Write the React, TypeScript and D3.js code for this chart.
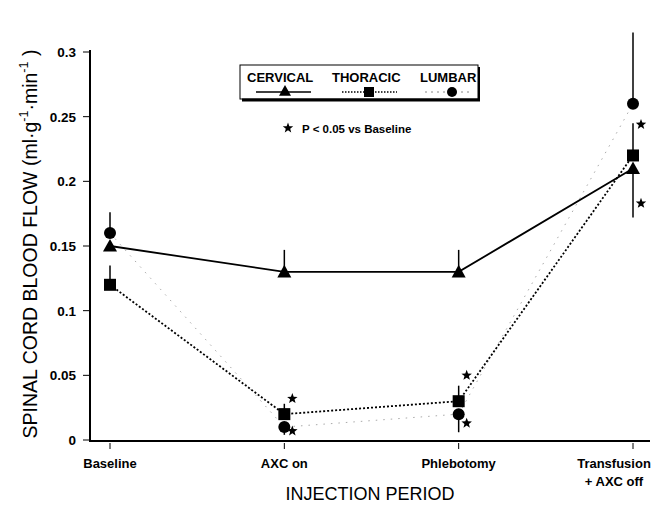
import React from "react";
import * as d3 from "d3";

const periods = ["Baseline", "AXC on", "Phlebotomy", "Transfusion\n+ AXC off"];
const cervical = [0.15, 0.13, 0.13, 0.21];
const thoracic = [0.12, 0.02, 0.03, 0.22];
const lumbar = [0.16, 0.01, 0.02, 0.26];
// error bar ends (one-sided)
const cervicalErr = [0.15, 0.147, 0.147, 0.172];
const thoracicErr = [0.135, 0.028, 0.042, 0.245];
const lumbarErr = [0.176, 0.004, 0.006, 0.315];
const yTicks = [0, 0.05, 0.1, 0.15, 0.2, 0.25, 0.3];
// significance stars: [period index, value]
const stars: [number, number][] = [
  [1, 0.032], [1, 0.007], [2, 0.05], [2, 0.013], [3, 0.244], [3, 0.183],
];

const W = 665, H = 507;
const x = d3.scaleLinear().domain([0, 3]).range([110, 633]);
const y = d3.scaleLinear().domain([0, 0.3]).range([440, 52]);
const font = "'Liberation Sans', Arial, Helvetica, sans-serif";

function Star({ cx, cy, r = 5.5 }: { cx: number; cy: number; r?: number }) {
  const pts: string[] = [];
  for (let i = 0; i < 10; i++) {
    const a = -Math.PI / 2 + (i * Math.PI) / 5;
    const rr = i % 2 === 0 ? r : r * 0.42;
    pts.push(`${cx + rr * Math.cos(a)},${cy + rr * Math.sin(a)}`);
  }
  return <polygon points={pts.join(" ")} fill="#000" />;
}

export default function App() {
  const line = d3.line<number>().x((_, i) => x(i)).y((d) => y(d));
  const tri = (cx: number, cy: number, s = 7) =>
    `${cx},${cy - s} ${cx + s},${cy + s * 0.8} ${cx - s},${cy + s * 0.8}`;
  const labelX = (i: number) => (i === 3 ? x(i) - 19 : x(i));
  return (
    <svg width={W} height={H} style={{ position: "absolute", left: 0, top: 0, background: "#fff" }} fontFamily={font}>
      {/* axes */}
      <line x1={90} x2={90} y1={50} y2={441} stroke="#000" strokeWidth={2} />
      <line x1={89} x2={650} y1={441} y2={441} stroke="#000" strokeWidth={2} />
      {yTicks.map((t) => (
        <g key={t}>
          <line x1={83} x2={90} y1={y(t)} y2={y(t)} stroke="#000" strokeWidth={1} />
          <text x={76} y={y(t) + 5} textAnchor="end" fontSize={13.5} fontWeight="bold">
            {t === 0 ? "0" : String(t)}
          </text>
        </g>
      ))}
      {periods.map((p, i) => (
        <g key={p}>
          <line x1={x(i)} x2={x(i)} y1={443} y2={449} stroke="#000" strokeWidth={1} />
          {p.split("\n").map((s, j) => (
            <text key={j} x={labelX(i)} y={468 + j * 18} textAnchor="middle" fontSize={13} fontWeight="bold">
              {s}
            </text>
          ))}
        </g>
      ))}
      <text x={370} y={500} textAnchor="middle" fontSize={18}>INJECTION PERIOD</text>
      <text transform="translate(37,244) rotate(-90)" textAnchor="middle" fontSize={19.5}>
        SPINAL CORD BLOOD FLOW (ml·g
        <tspan dy={-9} fontSize={12.5}>-1</tspan>
        <tspan dy={9}>·min</tspan>
        <tspan dy={-9} fontSize={12.5}>-1</tspan>
        <tspan dy={9}> )</tspan>
      </text>

      {/* error bars */}
      {lumbar.map((v, i) => (
        <line key={"le" + i} x1={x(i)} x2={x(i)} y1={y(v)} y2={y(lumbarErr[i])} stroke="#000" strokeWidth={1.5} />
      ))}
      {thoracic.map((v, i) => (
        <line key={"te" + i} x1={x(i)} x2={x(i)} y1={y(v)} y2={y(thoracicErr[i])} stroke="#000" strokeWidth={1.5} />
      ))}
      {cervical.map((v, i) => (
        <line key={"ce" + i} x1={x(i)} x2={x(i)} y1={y(v)} y2={y(cervicalErr[i])} stroke="#000" strokeWidth={1.5} />
      ))}

      {/* lines */}
      <path d={line(lumbar) || ""} fill="none" stroke="#aaa" strokeWidth={1} strokeDasharray="1.5,6" />
      <path d={line(thoracic) || ""} fill="none" stroke="#000" strokeWidth={1.8} strokeDasharray="2,2" />
      <path d={line(cervical) || ""} fill="none" stroke="#000" strokeWidth={1.8} />

      {/* markers */}
      {lumbar.map((v, i) => (
        <circle key={"lm" + i} cx={x(i)} cy={y(v)} r={6} fill="#000" />
      ))}
      {thoracic.map((v, i) => (
        <rect key={"tm" + i} x={x(i) - 6} y={y(v) - 6} width={12} height={12} fill="#000" />
      ))}
      {cervical.map((v, i) => (
        <polygon key={"cm" + i} points={tri(x(i), y(v))} fill="#000" />
      ))}

      {stars.map(([i, v], k) => (
        <Star key={k} cx={x(i) + 8} cy={y(v)} />
      ))}

      {/* legend */}
      <rect x={240} y={65} width={238} height={34} fill="#fff" stroke="#000" strokeWidth={1} />
      <line x1={242} x2={480} y1={100} y2={100} stroke="#000" strokeWidth={3} />
      <line x1={479} x2={479} y1={67} y2={101} stroke="#000" strokeWidth={2} />
      <text x={247} y={82} fontSize={13} fontWeight="bold">CERVICAL</text>
      <text x={332} y={82} fontSize={13} fontWeight="bold">THORACIC</text>
      <text x={420} y={82} fontSize={13} fontWeight="bold">LUMBAR</text>
      <line x1={256} x2={311} y1={92} y2={92} stroke="#000" strokeWidth={1.5} />
      <polygon points={tri(285, 91, 6)} fill="#000" />
      <line x1={342} x2={397} y1={92} y2={92} stroke="#000" strokeWidth={1.5} strokeDasharray="1.5,1.5" />
      <rect x={364} y={87} width={10} height={10} fill="#000" />
      <line x1={425} x2={472} y1={92} y2={92} stroke="#888" strokeWidth={1} strokeDasharray="2,4" />
      <circle cx={452} cy={92} r={5} fill="#000" />
      <Star cx={288} cy={128} />
      <text x={302} y={133} fontSize={11.5} fontWeight="bold">P &lt; 0.05 vs Baseline</text>
    </svg>
  );
}
